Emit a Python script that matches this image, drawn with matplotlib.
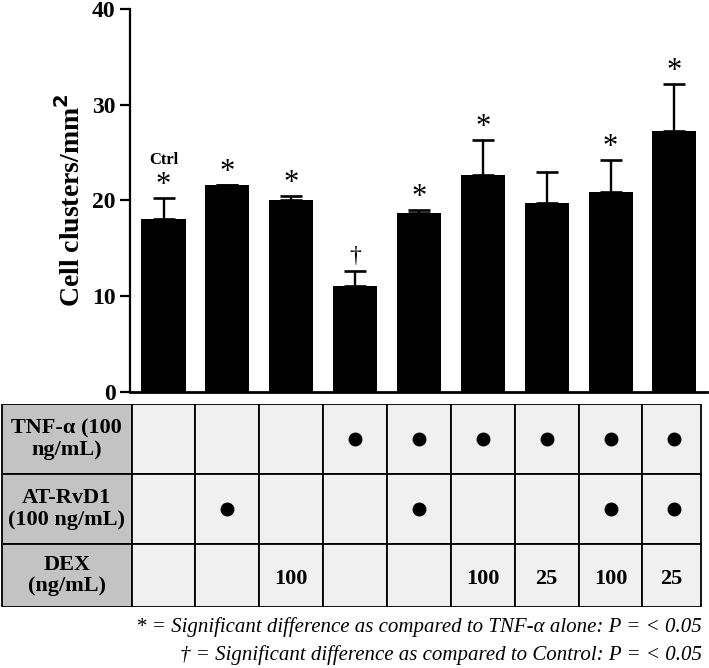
import matplotlib.pyplot as plt
from matplotlib.patches import Rectangle

plt.rcParams['font.family'] = ['Liberation Serif', 'DejaVu Serif']

# data
groups = ['Ctrl', 'AT-RvD1', 'DEX100', 'TNF', 'TNF+AT-RvD1', 'TNF+DEX100',
          'TNF+DEX25', 'TNF+AT-RvD1+DEX100', 'TNF+AT-RvD1+DEX25']
means = [18.1, 21.6, 20.0, 11.0, 18.7, 22.7, 19.7, 20.9, 27.2]
errors = [2.1, 0.05, 0.45, 1.65, 0.3, 3.6, 3.3, 3.3, 5.0]
marks = ['*', '*', '*', '†', '*', '*', '', '*', '*']

row_labels = ['TNF-α (100\nng/mL)', 'AT-RvD1\n(100 ng/mL)', 'DEX\n(ng/mL)']
tnf = [0, 0, 0, 1, 1, 1, 1, 1, 1]
rvd1 = [0, 1, 0, 0, 1, 0, 0, 1, 1]
dex = ['', '', '100', '', '', '100', '25', '100', '25']

notes = ['* = Significant difference as compared to TNF-α alone: P = < 0.05',
         '† = Significant difference as compared to Control: P = < 0.05']

W, H = 709, 668
fig = plt.figure(figsize=(W / 100, H / 100), dpi=100)

# bar chart
ax = fig.add_axes([130 / W, (H - 391.7) / H, 577 / W, 382.7 / H])
x = list(range(len(means)))
ax.bar(x, means, width=0.69, color='black', zorder=2)
ax.errorbar(x, means, yerr=[[0] * len(errors), errors], fmt='none',
            ecolor='black', elinewidth=1.7, capsize=8, capthick=1.9, zorder=1)
for i in x:
    if marks[i] == '*':
        ax.text(i, means[i] + errors[i] + 1.3, '*', ha='center', va='center',
                fontsize=22)
    elif marks[i]:
        ax.text(i, means[i] + errors[i] + 0.4, marks[i], ha='center', va='bottom',
                fontsize=17)
ax.text(0, means[0] + errors[0] + 4.0, 'Ctrl', ha='center', va='center',
        fontsize=12, fontweight='bold')

ax.set_xlim(-0.525, 8.51)
ax.set_ylim(0, 40)
ax.set_yticks([0, 10, 20, 30, 40])
ax.set_xticks([])
ax.spines['top'].set_visible(False)
ax.spines['right'].set_visible(False)
ax.spines['left'].set_linewidth(1.6)
ax.spines['bottom'].set_linewidth(2)
ax.tick_params(axis='y', direction='out', length=7, width=1.6, labelsize=17)
for lab in ax.get_yticklabels():
    lab.set_fontweight('bold')
ax.set_ylabel('Cell clusters/mm$^\\mathbf{2}$', fontsize=20, fontweight='bold',
              labelpad=4)

# condition table
tab = fig.add_axes([0, (H - 607) / H, 1, 203 / H])
tab.set_xlim(-0.525 - 130 / 63.86, -0.525 + 579 / 63.86)
tab.set_ylim(203, 0)
tab.axis('off')

row_edges = [0, 70, 140, 203]
left_edge = -0.525 - 128 / 63.86
right_edge = 8.41
col_edges = [i - 0.5 for i in range(9)] + [right_edge]

for r in range(3):
    y0, y1 = row_edges[r], row_edges[r + 1]
    tab.add_patch(Rectangle((left_edge, y0), -0.5 - left_edge, y1 - y0,
                            facecolor='#c3c3c3', edgecolor='black', lw=1.3))
    tab.text((left_edge - 0.5) / 2, (y0 + y1) / 2, row_labels[r], ha='center',
             va='center', fontsize=16, fontweight='bold', linespacing=1.1)
    for c in range(9):
        tab.add_patch(Rectangle((col_edges[c], y0), col_edges[c + 1] - col_edges[c],
                                y1 - y0, facecolor='#f0f0f0', edgecolor='black',
                                lw=1.3))

for c in range(9):
    yc = (row_edges[0] + row_edges[1]) / 2
    if tnf[c]:
        tab.plot(c, yc, 'o', color='black', markersize=9)
    yc = (row_edges[1] + row_edges[2]) / 2
    if rvd1[c]:
        tab.plot(c, yc, 'o', color='black', markersize=9)
    yc = (row_edges[2] + row_edges[3]) / 2 + 4
    if dex[c]:
        tab.text((col_edges[c] + col_edges[c + 1]) / 2, yc, dex[c], ha='center',
                 va='center', fontsize=16, fontweight='bold')

# footnotes
fig.text(702 / W, 1 - 627 / H, notes[0], ha='right', va='center', fontsize=15,
         style='italic')
fig.text(702 / W, 1 - 655 / H, notes[1], ha='right', va='center', fontsize=15,
         style='italic')

fig.savefig('out.png', dpi=100)
